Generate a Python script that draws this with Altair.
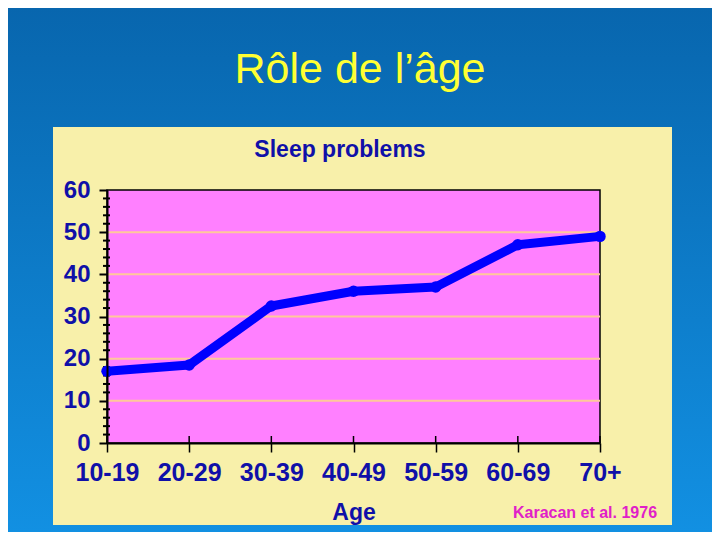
import altair as alt
import pandas as pd

ages = ["10-19", "20-29", "30-39", "40-49", "50-59", "60-69", "70+"]
values = [17, 18.5, 32.5, 36, 37, 47, 49]
grid_vals = [10, 20, 30, 40, 50]
minor_vals = [v for v in range(2, 60, 2) if v % 10 != 0]

W, H = 493, 253
PL, PT = 99, 182
CW, CH = 704, 524

df = pd.DataFrame({"age": ages, "value": values})
grid_df = pd.DataFrame({"v": grid_vals})
minor_df = pd.DataFrame({"v": minor_vals})
one = pd.DataFrame({"a": [0]})

yscale = alt.Scale(domain=[0, 60], nice=False)
xscale = alt.Scale(type="point", domain=ages, padding=0)

bg = alt.Chart(one).mark_rect(
    color=alt.Gradient(gradient="linear", x1=0, y1=0, x2=0, y2=1,
                       stops=[alt.GradientStop(color="#0866ae", offset=0),
                              alt.GradientStop(color="#1290e2", offset=1)]),
    clip=False,
).encode(x=alt.value(-PL), x2=alt.value(CW - PL), y=alt.value(-PT), y2=alt.value(CH - PT))

panel = alt.Chart(one).mark_rect(color="#f8f0aa", clip=False).encode(
    x=alt.value(-54), x2=alt.value(565), y=alt.value(-63), y2=alt.value(335))

plotbg = alt.Chart(one).mark_rect(fill="#ff80ff", stroke="black", strokeWidth=1.5).encode(
    x=alt.value(0), x2=alt.value(W), y=alt.value(0), y2=alt.value(H))

grid = alt.Chart(grid_df).mark_rule(color="#ffc89a", strokeWidth=2).encode(
    y=alt.Y("v:Q", scale=yscale), x=alt.value(0), x2=alt.value(W))

minor = alt.Chart(minor_df).mark_rule(color="black", strokeWidth=2).encode(
    y=alt.Y("v:Q", scale=yscale), x=alt.value(-4), x2=alt.value(3))

xup = alt.Chart(df).mark_rule(color="black", strokeWidth=1.5).encode(
    x=alt.X("age:N", scale=xscale, sort=ages), y=alt.value(H - 7), y2=alt.value(H))

line = alt.Chart(df).mark_line(
    color="#0000ff", strokeWidth=9, strokeCap="round", strokeJoin="round",
    point=alt.OverlayMarkDef(filled=True, color="#0000ff", size=130),
).encode(
    x=alt.X("age:N", scale=xscale, sort=ages,
            axis=alt.Axis(title="Age", labelAngle=0, labelAlign="center", labelBaseline="top",
                          labelFont="Liberation Sans",
                          labelFontSize=25, labelFontWeight="bold", labelColor="#1010a8",
                          labelPadding=8, tickColor="black", tickSize=9, tickWidth=1.5,
                          domainColor="black", domainWidth=2,
                          titleFont="Liberation Sans", titleFontSize=23, titleFontWeight="bold",
                          titleColor="#1010a8", titlePadding=16, zindex=1)),
    y=alt.Y("value:Q", scale=yscale,
            axis=alt.Axis(title=None, values=[0, 10, 20, 30, 40, 50, 60],
                          labelFont="Liberation Sans", labelFontSize=24, labelFontWeight="bold",
                          labelColor="#1010a8", labelPadding=9, tickColor="black",
                          tickSize=8, tickWidth=2, domainColor="black", domainWidth=2,
                          grid=False, zindex=1)),
)

title = alt.Chart(one).mark_text(
    text="Rôle de l’âge", font="Liberation Sans", fontSize=43, color="#ffff33",
    align="center", baseline="alphabetic", clip=False,
).encode(x=alt.value(253), y=alt.value(-107))

sub = alt.Chart(one).mark_text(
    text="Sleep problems", font="Liberation Sans", fontSize=23, fontWeight="bold",
    color="#1010a8", align="center", baseline="alphabetic", clip=False,
).encode(x=alt.value(233), y=alt.value(-33))

src = alt.Chart(one).mark_text(
    text="Karacan et al. 1976", font="Liberation Sans", fontSize=16, fontWeight="bold",
    color="#e020c8", align="center", baseline="alphabetic", clip=False,
).encode(x=alt.value(478), y=alt.value(328))

chart = alt.layer(bg, panel, plotbg, grid, minor, xup, line, title, sub, src).properties(
    width=W, height=H,
    autosize=alt.AutoSizeParams(type="none"),
    padding={"left": PL, "top": PT, "right": CW - PL - W, "bottom": CH - PT - H},
).configure_view(strokeWidth=0).configure(background="#0866ae")

chart.save("out.html", embed_options={"renderer": "svg", "actions": False})
